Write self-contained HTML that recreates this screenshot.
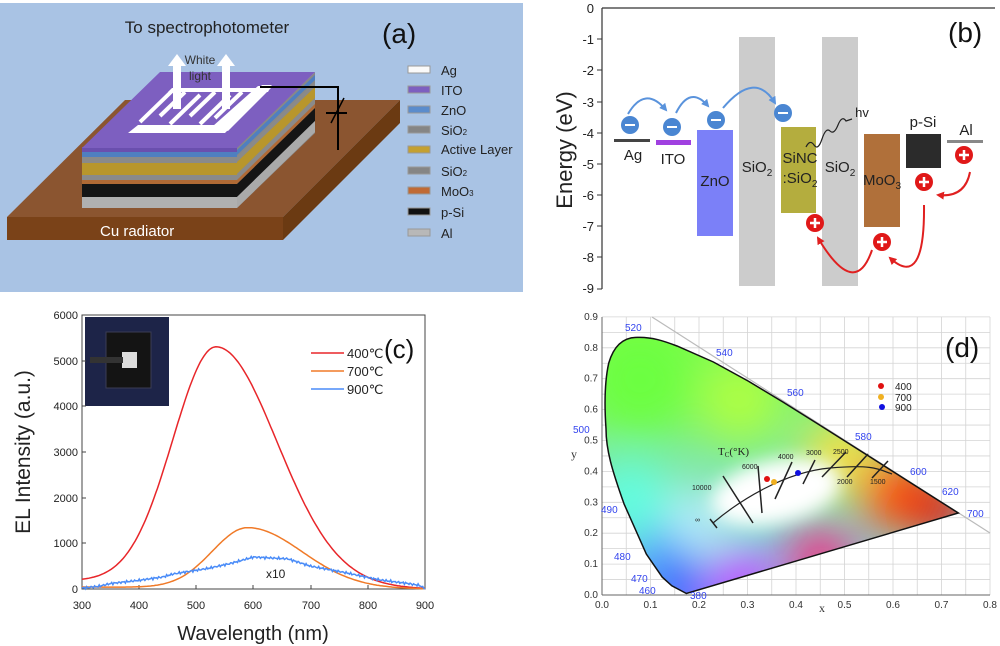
<!DOCTYPE html>
<html><head><meta charset="utf-8"><style>
html,body{margin:0;padding:0;background:#fff;width:1000px;height:646px;overflow:hidden}
svg{display:block}
text{font-family:"Liberation Sans",sans-serif}
.s{font-family:"Liberation Serif",serif}
</style></head><body>
<svg width="1000" height="646" viewBox="0 0 1000 646" xmlns="http://www.w3.org/2000/svg">
<defs>
<clipPath id="hs"><path id="locus" d="M686.4,593.5 L671.8,585.8 L662.2,577.1 L646.3,554 L624,503.8 C612,470 606,450 606,428.6 C604,400 605,380 608.7,363.2 C614,345 624,337 638,337.4 C652,337 664,341 677,346 L713.4,362 L748.3,381.1 L782.9,402 L817.4,423.6 L850.6,444.6 L881,463.9 L906.1,479.9 L937.4,499.7 L958.3,513 Z"/></clipPath>
<filter id="bl" x="-50%" y="-50%" width="200%" height="200%"><feGaussianBlur stdDeviation="22"/></filter>
<filter id="bl2" x="-50%" y="-50%" width="200%" height="200%"><feGaussianBlur stdDeviation="9"/></filter>
<linearGradient id="bg" x1="0" y1="0" x2="0" y2="1"><stop offset="0" stop-color="#7fff40"/><stop offset="1" stop-color="#7fd0ff"/></linearGradient>
<marker id="ab" markerWidth="8" markerHeight="8" refX="6" refY="4" orient="auto" markerUnits="userSpaceOnUse"><path d="M0,0 L8,4 L0,8 Z" fill="#5a93dc"/></marker>
<marker id="ar" markerWidth="8" markerHeight="8" refX="6" refY="4" orient="auto" markerUnits="userSpaceOnUse"><path d="M0,0 L8,4 L0,8 Z" fill="#e02020"/></marker>
</defs>

<!-- Panel a -->
<rect x="0" y="3" width="523" height="289" fill="#a9c3e4"/>
<text x="207" y="33" font-size="17" text-anchor="middle" fill="#222">To spectrophotometer</text>
<text x="382" y="43" font-size="28" fill="#111">(a)</text>
<polygon points="7,217 125,100 400,100 283,217" fill="#8b5530"/>
<polygon points="7,217 283,217 283,240 7,240" fill="#7a4218"/>
<polygon points="283,217 400,100 400,123 283,240" fill="#6b3a12"/>
<g>
<polygon points="237,147 315,72 315,133 237,208" fill="#888"/>
<polygon points="237,150 315,75 315,80 237,155" fill="#4f7fc0"/>
<polygon points="237,157 315,82 315,87 237,162" fill="#8a8a8a"/>
<polygon points="237,162 315,87 315,98 237,174" fill="#b8962c"/>
<polygon points="237,174 315,98 315,104 237,180" fill="#8a8a8a"/>
<polygon points="237,180 315,104 315,108 237,184" fill="#b06a35"/>
<polygon points="237,184 315,108 315,121 237,197" fill="#151515"/>
<polygon points="237,197 315,121 315,132 237,208" fill="#aaa"/>
</g>
<rect x="82" y="147" width="155" height="5" fill="#6a4fae"/>
<rect x="82" y="152" width="155" height="5" fill="#4f7fc0"/>
<rect x="82" y="157" width="155" height="6" fill="#8a8a8a"/>
<rect x="82" y="163" width="155" height="12" fill="#b8962c"/>
<rect x="82" y="175" width="155" height="5" fill="#8a8a8a"/>
<rect x="82" y="180" width="155" height="4" fill="#b06a35"/>
<rect x="82" y="184" width="155" height="13" fill="#151515"/>
<rect x="82" y="197" width="155" height="11" fill="#b0b0b0"/>
<polygon points="82,148 160,72 315,72 237,148" fill="#7d5fc0"/>
<g fill="#fff">
<polygon points="128,133 225,133 272,85 262,85 222,125 138,125"/>
<polygon points="213,126 258,86 273,86 228,131"/>
<polygon points="172,88 270,88 268,92 168,92"/>
</g>
<g stroke="#fff" stroke-width="4">
<line x1="140" y1="122" x2="172" y2="91"/><line x1="160" y1="116" x2="185" y2="92"/>
<line x1="170" y1="124" x2="200" y2="95"/><line x1="190" y1="116" x2="215" y2="92"/>
<line x1="200" y1="124" x2="230" y2="95"/><line x1="215" y1="118" x2="242" y2="92"/>
</g>
<g fill="#fff">
<rect x="173" y="64" width="8" height="45"/><polygon points="168,66 177,54 186,66"/>
<rect x="222" y="64" width="8" height="45"/><polygon points="217,66 226,54 235,66"/>
</g>
<text x="200" y="64" font-size="12" text-anchor="middle" fill="#333">White</text>
<text x="200" y="80" font-size="12" text-anchor="middle" fill="#333">light</text>
<polyline points="260,87 338,87 338,150" fill="none" stroke="#000" stroke-width="2"/>
<line x1="326" y1="113" x2="347" y2="113" stroke="#000" stroke-width="2"/>
<line x1="331" y1="123" x2="344" y2="98" stroke="#000" stroke-width="1.5"/>
<g font-size="13" fill="#222">
<rect x="408" y="66" width="22" height="7" fill="#fafafa" stroke="#999"/><text x="441" y="75">Ag</text>
<rect x="408" y="86" width="22" height="7" fill="#7d5fc0" stroke="#999"/><text x="441" y="95">ITO</text>
<rect x="408" y="106" width="22" height="7" fill="#5b8ccc" stroke="#999"/><text x="441" y="115">ZnO</text>
<rect x="408" y="126" width="22" height="7" fill="#858585" stroke="#999"/><text x="441" y="135">SiO<tspan font-size="8">2</tspan></text>
<rect x="408" y="146" width="22" height="7" fill="#c4a030" stroke="#999"/><text x="441" y="154">Active Layer</text>
<rect x="408" y="167" width="22" height="7" fill="#858585" stroke="#999"/><text x="441" y="176">SiO<tspan font-size="8">2</tspan></text>
<rect x="408" y="187" width="22" height="7" fill="#c06a35" stroke="#999"/><text x="441" y="196">MoO<tspan font-size="8">3</tspan></text>
<rect x="408" y="208" width="22" height="7" fill="#111" stroke="#999"/><text x="441" y="217">p-Si</text>
<rect x="408" y="229" width="22" height="7" fill="#b8b8b8" stroke="#999"/><text x="441" y="238">Al</text>
</g>
<text x="100" y="236" font-size="15" fill="#fff">Cu radiator</text>

<!-- Panel b -->
<line x1="602" y1="8" x2="995" y2="8" stroke="#333" stroke-width="1.2"/>
<line x1="602" y1="8" x2="602" y2="289" stroke="#333" stroke-width="1.2"/>
<g font-size="13" text-anchor="end" fill="#222">
<text x="594" y="13">0</text><text x="594" y="44">-1</text><text x="594" y="75">-2</text><text x="594" y="107">-3</text><text x="594" y="138">-4</text><text x="594" y="169">-5</text><text x="594" y="200">-6</text><text x="594" y="231">-7</text><text x="594" y="262">-8</text><text x="594" y="293">-9</text>
</g>
<g stroke="#333"><line x1="597" y1="39" x2="602" y2="39"/><line x1="597" y1="70" x2="602" y2="70"/><line x1="597" y1="102" x2="602" y2="102"/><line x1="597" y1="133" x2="602" y2="133"/><line x1="597" y1="164" x2="602" y2="164"/><line x1="597" y1="195" x2="602" y2="195"/><line x1="597" y1="226" x2="602" y2="226"/><line x1="597" y1="257" x2="602" y2="257"/><line x1="597" y1="289" x2="602" y2="289"/></g>
<text transform="translate(572,150) rotate(-90)" font-size="22" text-anchor="middle" fill="#222">Energy (eV)</text>
<text x="948" y="42" font-size="28" fill="#111">(b)</text>
<rect x="614" y="139" width="36" height="3" fill="#444"/>
<rect x="656" y="140" width="35" height="5" fill="#a040e0"/>
<rect x="697" y="130" width="36" height="106" fill="#7b80f8"/>
<rect x="739" y="37" width="36" height="249" fill="#cccccc"/>
<rect x="781" y="127" width="35" height="86" fill="#b4ad3e"/>
<rect x="822" y="37" width="36" height="249" fill="#cccccc"/>
<rect x="864" y="134" width="36" height="93" fill="#b0703a"/>
<rect x="906" y="134" width="35" height="34" fill="#2b2b2b"/>
<rect x="947" y="140" width="36" height="3" fill="#888"/>
<g font-size="15" fill="#222" text-anchor="middle">
<text x="633" y="160">Ag</text><text x="673" y="164">ITO</text><text x="715" y="186">ZnO</text>
<text x="757" y="172">SiO<tspan font-size="10" dy="4">2</tspan></text>
<text x="800" y="163">SiNC</text><text x="800" y="183">:SiO<tspan font-size="10" dy="4">2</tspan></text>
<text x="840" y="172">SiO<tspan font-size="10" dy="4">2</tspan></text>
<text x="882" y="185">MoO<tspan font-size="10" dy="4">3</tspan></text>
<text x="923" y="127">p-Si</text><text x="966" y="135">Al</text>
<text x="862" y="117" font-size="13">hv</text>
</g>
<path d="M806,147 q4,-8 8,-2 t8,-6 t8,-8 t8,-6 t8,-4 l6,-2" fill="none" stroke="#222" stroke-width="1.2"/>
<g fill="none" stroke="#5a93dc" stroke-width="2">
<path d="M628,114 Q645,85 666,110" marker-end="url(#ab)"/><path d="M676,113 Q690,85 708,106" marker-end="url(#ab)"/><path d="M723,108 Q755,70 775,103" marker-end="url(#ab)"/>
</g>
<g fill="none" stroke="#e02020" stroke-width="2">
<path d="M872,250 Q855,300 818,238" marker-end="url(#ar)"/><path d="M924,205 Q925,290 890,258" marker-end="url(#ar)"/><path d="M970,172 Q965,198 938,195" marker-end="url(#ar)"/>
</g>
<g>
<circle cx="630" cy="125" r="9" fill="#4a86d2"/><circle cx="672" cy="127" r="9" fill="#4a86d2"/><circle cx="716" cy="120" r="9" fill="#4a86d2"/><circle cx="783" cy="113" r="9" fill="#4a86d2"/>
<g stroke="#fff" stroke-width="2"><line x1="625" y1="125" x2="635" y2="125"/><line x1="667" y1="127" x2="677" y2="127"/><line x1="711" y1="120" x2="721" y2="120"/><line x1="778" y1="113" x2="788" y2="113"/></g>
<circle cx="815" cy="223" r="9" fill="#e01818"/><circle cx="882" cy="242" r="9" fill="#e01818"/><circle cx="924" cy="182" r="9" fill="#e01818"/><circle cx="964" cy="155" r="9" fill="#e01818"/>
<g stroke="#fff" stroke-width="2.5"><path d="M810,223h10M815,218v10M877,242h10M882,237v10M919,182h10M924,177v10M959,155h10M964,150v10"/></g>
</g>

<!-- Panel c -->
<rect x="82" y="315" width="343" height="274" fill="none" stroke="#444" stroke-width="1"/>
<rect x="85" y="317" width="84" height="89" fill="#1d2448"/>
<rect x="106" y="332" width="45" height="56" fill="#141414" stroke="#3a3d55"/>
<rect x="122" y="352" width="15" height="16" fill="#ddd"/>
<rect x="90" y="357" width="33" height="6" fill="#333"/>
<g font-size="11" fill="#222" text-anchor="end">
<text x="78" y="319">6000</text><text x="78" y="365">5000</text><text x="78" y="410">4000</text><text x="78" y="456">3000</text><text x="78" y="502">2000</text><text x="78" y="547">1000</text><text x="78" y="593">0</text>
</g>
<g font-size="11" fill="#222" text-anchor="middle">
<text x="82" y="609">300</text><text x="139" y="609">400</text><text x="196" y="609">500</text><text x="253" y="609">600</text><text x="311" y="609">700</text><text x="368" y="609">800</text><text x="425" y="609">900</text>
</g>
<g stroke="#444"><path d="M82,361h4M82,406h4M82,452h4M82,498h4M82,543h4M139,589v-4M196,589v-4M253,589v-4M311,589v-4M368,589v-4"/></g>
<text transform="translate(30,452) rotate(-90)" font-size="21" text-anchor="middle" fill="#222">EL Intensity (a.u.)</text>
<text x="253" y="640" font-size="20" text-anchor="middle" fill="#222">Wavelength (nm)</text>
<path id="red" fill="none" stroke="#e8262a" stroke-width="1.5"/>
<path id="org" fill="none" stroke="#f07a28" stroke-width="1.5"/>
<path id="blu" fill="none" stroke="#4a8cf8" stroke-width="1.5"/>
<text x="266" y="578" font-size="12" fill="#222">x10</text>
<line x1="311" y1="353" x2="344" y2="353" stroke="#e8262a" stroke-width="1.5"/>
<line x1="311" y1="371" x2="344" y2="371" stroke="#f07a28" stroke-width="1.5"/>
<line x1="311" y1="389" x2="344" y2="389" stroke="#4a8cf8" stroke-width="1.5"/>
<g font-size="13" fill="#222"><text x="347" y="358">400℃</text><text x="347" y="376">700℃</text><text x="347" y="394">900℃</text></g>
<text x="384" y="358" font-size="26" fill="#111">(c)</text>

<!-- Panel d -->
<g stroke="#d4d4d4" stroke-width="0.8" id="grid"></g>
<line x1="602" y1="317" x2="602" y2="595" stroke="#666"/>
<line x1="602" y1="595" x2="990" y2="595" stroke="#666"/>
<line x1="652" y1="317" x2="990" y2="533" stroke="#bbb" stroke-width="1.2"/>
<g clip-path="url(#hs)">
<rect x="600" y="330" width="370" height="270" fill="url(#bg)"/>
<g filter="url(#bl)">
<circle cx="640" cy="380" r="55" fill="#6cff40"/>
<circle cx="740" cy="400" r="40" fill="#b0ff40"/>
<circle cx="840" cy="455" r="35" fill="#ffe040"/>
<circle cx="900" cy="495" r="40" fill="#ff5010"/>
<circle cx="940" cy="510" r="30" fill="#e01010"/>
<circle cx="630" cy="500" r="40" fill="#60ffe0"/>
<circle cx="660" cy="560" r="30" fill="#4090ff"/>
<circle cx="680" cy="590" r="25" fill="#2020ff"/>
<circle cx="740" cy="580" r="30" fill="#d030ff"/>
<circle cx="820" cy="560" r="35" fill="#f03080"/>
<circle cx="700" cy="520" r="30" fill="#c0f0ff"/>
</g>
<ellipse cx="776" cy="492" rx="66" ry="32" fill="#fff" transform="rotate(-12 776 492)" filter="url(#bl2)"/>
</g>
<use href="#locus" fill="none" stroke="#111" stroke-width="1.5"/>
<path d="M713,523 C740,500 785,472 830,468 S880,470 892,474" fill="none" stroke="#222" stroke-width="1.2"/>
<g stroke="#222" stroke-width="1.5">
<line x1="710" y1="519" x2="717" y2="528"/><line x1="723" y1="476" x2="753" y2="523"/><line x1="758" y1="466" x2="762" y2="513"/><line x1="792" y1="462" x2="775" y2="499"/>
<line x1="815" y1="460" x2="803" y2="484"/><line x1="846" y1="452" x2="822" y2="477"/><line x1="868" y1="454" x2="847" y2="477"/><line x1="888" y1="461" x2="872" y2="478"/>
</g>
<g class="s" font-size="7" fill="#222">
<text x="692" y="490">10000</text><text x="742" y="469">6000</text><text x="778" y="459">4000</text><text x="806" y="455">3000</text><text x="833" y="454">2500</text>
<text x="837" y="484">2000</text><text x="870" y="484">1500</text><text x="695" y="522">∞</text>
</g>
<text x="718" y="455" class="s" font-size="11" fill="#222">T<tspan font-size="7" dy="2">C</tspan><tspan dy="-2">(°K)</tspan></text>
<circle cx="767" cy="479" r="3" fill="#e01010"/><circle cx="774" cy="482" r="3" fill="#f0b020"/><circle cx="798" cy="473" r="3" fill="#1010e0"/>
<circle cx="881" cy="386" r="3" fill="#e01010"/><circle cx="881" cy="397" r="3" fill="#f0b020"/><circle cx="882" cy="407" r="3" fill="#1010e0"/>
<g font-size="10" fill="#222"><text x="895" y="390">400</text><text x="895" y="401">700</text><text x="895" y="411">900</text></g>
<text x="945" y="357" font-size="28" fill="#111">(d)</text>
<g class="s" font-size="10" fill="#3344ee">
<text x="625" y="331">520</text><text x="716" y="356">540</text><text x="787" y="396">560</text><text x="855" y="440">580</text><text x="910" y="475">600</text><text x="942" y="495">620</text><text x="967" y="517">700</text>
<text x="573" y="433">500</text><text x="601" y="513">490</text><text x="614" y="560">480</text><text x="631" y="582">470</text><text x="639" y="594">460</text><text x="690" y="599">380</text>
</g>
<g class="s" font-size="10" fill="#333" text-anchor="end" id="ylab"></g>
<g class="s" font-size="10" fill="#333" text-anchor="middle" id="xlab"></g>
<text x="819" y="612" class="s" font-size="12" fill="#333">x</text>
<text x="571" y="458" class="s" font-size="12" fill="#333">y</text>
</svg>
<script>
var NS="http://www.w3.org/2000/svg";
function X(w){return 82+(w-300)*343/600}function Y(v){return 589-v*274/6000}
function g(w,p,a,sl,sr,b){var s=w<p?sl:sr;return a*Math.exp(-(w-p)*(w-p)/(2*s*s))+b}
var r="",o="",bl="";
for(var w=300;w<=900;w+=3){
var rb=170*Math.max(0,1-(w-300)/600);
var rv=g(w,535,5200,76,106,rb);
var ov=g(w,590,1320,62,95,30*Math.max(0,1-(w-500)/400));
r+=(w==300?"M":"L")+X(w).toFixed(1)+","+Y(rv).toFixed(1);
o+=(w==300?"M":"L")+X(w).toFixed(1)+","+Y(ov).toFixed(1);
}
var bp=[[300,20],[330,60],[350,120],[400,190],[440,260],[460,330],[520,450],[560,560],[600,700],[630,680],[660,660],[700,500],[760,360],[820,200],[870,120],[890,80],[900,10]];
for(var w=300;w<=900;w+=2){var i=0;while(i<bp.length-2&&bp[i+1][0]<w)i++;
var a=bp[i],c=bp[i+1],t=(w-a[0])/(c[0]-a[0]);var v=a[1]+(c[1]-a[1])*t+(Math.sin(w*1.7)+Math.sin(w*0.9))*15;
bl+=(w==300?"M":"L")+X(w).toFixed(1)+","+Y(Math.max(0,v)).toFixed(1);}
document.getElementById("red").setAttribute("d",r);
document.getElementById("org").setAttribute("d",o);
document.getElementById("blu").setAttribute("d",bl);
var gr=document.getElementById("grid"),yl=document.getElementById("ylab"),xl=document.getElementById("xlab");
for(var i=0;i<=16;i++){var x=602+i*0.05*485;var l=document.createElementNS(NS,"line");l.setAttribute("x1",x);l.setAttribute("x2",x);l.setAttribute("y1",317);l.setAttribute("y2",595);gr.appendChild(l);
if(i%2==0){var t=document.createElementNS(NS,"text");t.setAttribute("x",x);t.setAttribute("y",608);t.textContent=(i*0.05).toFixed(1);xl.appendChild(t);}}
for(var i=0;i<=18;i++){var y=595-i*0.05*309;var l=document.createElementNS(NS,"line");l.setAttribute("x1",602);l.setAttribute("x2",990);l.setAttribute("y1",y);l.setAttribute("y2",y);gr.appendChild(l);
if(i%2==0){var t=document.createElementNS(NS,"text");t.setAttribute("x",598);t.setAttribute("y",y+3);t.textContent=(i*0.05).toFixed(1);yl.appendChild(t);}}
</script>
</body></html>
